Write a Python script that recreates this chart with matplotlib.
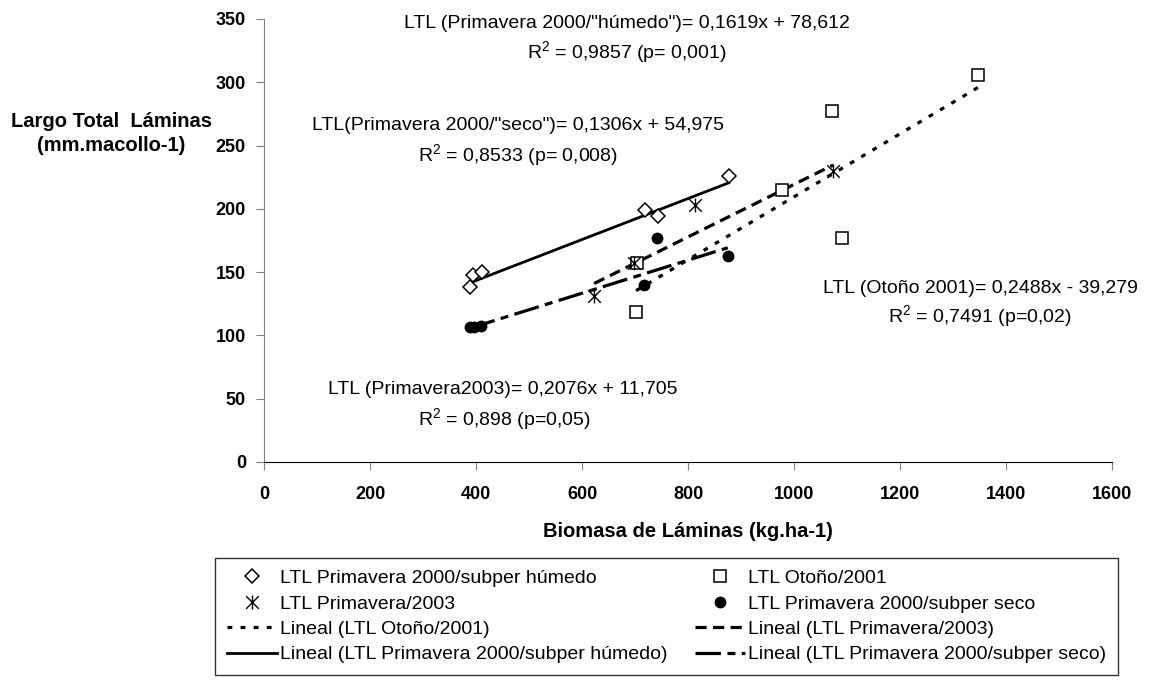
import matplotlib
matplotlib.use("Agg")
import matplotlib.pyplot as plt
import numpy as np
from matplotlib.path import Path

plt.rcParams['font.family'] = ['Liberation Sans', 'DejaVu Sans']
plt.rcParams['mathtext.fontset'] = 'custom'
plt.rcParams['mathtext.rm'] = 'Liberation Sans'

# data (biomasa kg/ha, largo total mm/macollo)
x_humedo = [389, 394, 411, 719, 743, 877]
y_humedo = [138.6, 148, 150, 199, 194, 226]

x_otono = [702, 704, 977, 1072, 1091, 1347]
y_otono = [118.8, 157.6, 214.6, 277, 176.6, 306]

x_p2003 = [623, 698, 813, 1074]
y_p2003 = [131.4, 157.6, 202.7, 229.6]

x_seco = [389, 396, 409, 717, 742, 875]
y_seco = [106.5, 106.5, 107.5, 140, 176.6, 163]

# regression coefficients shown in the chart
slopes = {'humedo': 0.1619, 'seco': 0.1306, 'otono': 0.2488, 'p2003': 0.2076}
intercepts = {'humedo': 78.612, 'seco': 54.975, 'otono': -39.279, 'p2003': 11.705}

labels_pts = ['LTL Primavera 2000/subper húmedo', 'LTL Otoño/2001',
              'LTL Primavera/2003', 'LTL Primavera 2000/subper seco']
labels_fit = ['Lineal (LTL Otoño/2001)', 'Lineal (LTL Primavera/2003)',
              'Lineal (LTL Primavera 2000/subper húmedo)',
              'Lineal (LTL Primavera 2000/subper seco)']

# excel style asterisk: X with a vertical bar
star = Path([(-1, -1), (1, 1), (-1, 1), (1, -1), (0, -1.1), (0, 1.1)],
            [Path.MOVETO, Path.LINETO, Path.MOVETO, Path.LINETO, Path.MOVETO, Path.LINETO])

W, H = 1153, 680
fig = plt.figure(figsize=(W / 100, H / 100), dpi=100)
ax = fig.add_axes([264 / W, 218 / H, 848 / W, 443 / H])


def fit_line(key, xs, **kw):
    xx = np.array([min(xs), max(xs)])
    return ax.plot(xx, slopes[key] * xx + intercepts[key], color='black',
                   dash_capstyle='butt', **kw)[0]


l_otono = fit_line('otono', x_otono, lw=2.3, linestyle=(0, (1.5, 2.6)), label=labels_fit[0])
l_p2003 = fit_line('p2003', x_p2003, lw=2.3, linestyle=(0, (3.5, 2)), label=labels_fit[1])
l_humedo = fit_line('humedo', x_humedo, lw=2.0, linestyle='-', label=labels_fit[2])
l_seco = fit_line('seco', x_seco, lw=2.3, linestyle=(0, (8, 2, 2.5, 2)), label=labels_fit[3])

p_humedo, = ax.plot(x_humedo, y_humedo, 'D', ms=7, mfc='white', mec='black', mew=1.1,
                    linestyle='none', label=labels_pts[0], zorder=4)
p_otono, = ax.plot(x_otono, y_otono, 's', ms=8.5, mfc='white', mec='black', mew=1.1,
                   linestyle='none', label=labels_pts[1], zorder=4)
p_p2003, = ax.plot(x_p2003, y_p2003, marker=star, ms=10, mfc='none', mec='black', mew=1.0,
                   linestyle='none', label=labels_pts[2], zorder=5)
p_seco, = ax.plot(x_seco, y_seco, 'o', ms=7.5, color='black',
                  linestyle='none', label=labels_pts[3], zorder=4)

ax.set_xlim(0, 1600)
ax.set_ylim(0, 350)
ax.set_xticks(np.arange(0, 1601, 200))
ax.set_yticks(np.arange(0, 351, 50))
for s in ['top', 'right']:
    ax.spines[s].set_visible(False)
ax.spines['left'].set_color('#808080')
ax.spines['bottom'].set_color('black')
ax.tick_params(axis='both', direction='out', length=6, color='#808080', labelsize=13)
ax.tick_params(axis='x', pad=11)
ax.tick_params(axis='y', pad=7)
for t in ax.get_xticklabels() + ax.get_yticklabels():
    t.set_fontweight('bold')

ax.set_xlabel('Biomasa de Láminas (kg.ha-1)', fontsize=14.5, fontweight='bold', labelpad=14)
ax.set_ylabel('Largo Total  Láminas\n(mm.macollo-1)', fontsize=14.5, fontweight='bold',
              rotation=0, ha='center', va='center', linespacing=1.3)
ax.yaxis.set_label_coords(-0.180, 0.742)


def ftext(px, py, s):
    fig.text(px / W, 1 - py / H, s, ha='center', va='center', fontsize=14)


r2 = r'R$^\mathregular{2}$'
ftext(627, 23, 'LTL (Primavera 2000/"húmedo")= 0,1619x + 78,612')
ftext(627, 53, r2 + ' = 0,9857 (p= 0,001)')
ftext(518, 126, 'LTL(Primavera 2000/"seco")= 0,1306x + 54,975')
ftext(518, 156, r2 + ' = 0,8533 (p= 0,008)')
ftext(980, 288, 'LTL (Otoño 2001)= 0,2488x - 39,279')
ftext(980, 317, r2 + ' = 0,7491 (p=0,02)')
ftext(503, 390, 'LTL (Primavera2003)= 0,2076x + 11,705')
ftext(504, 420, r2 + ' = 0,898 (p=0,05)')

handles = [p_humedo, p_p2003, l_otono, l_humedo, p_otono, p_seco, l_p2003, l_seco]
leg = fig.legend(handles, [h.get_label() for h in handles], ncol=2,
                 loc='upper left', bbox_to_anchor=(215 / W, 1 - 558 / H),
                 borderaxespad=0, fontsize=14, handlelength=2.6,
                 handletextpad=0.15, labelspacing=0.4, borderpad=0.6,
                 columnspacing=1.4, fancybox=False, frameon=True)
leg.get_frame().set_edgecolor('black')
leg.get_frame().set_linewidth(1.0)

fig.savefig('out.png', dpi=100)
